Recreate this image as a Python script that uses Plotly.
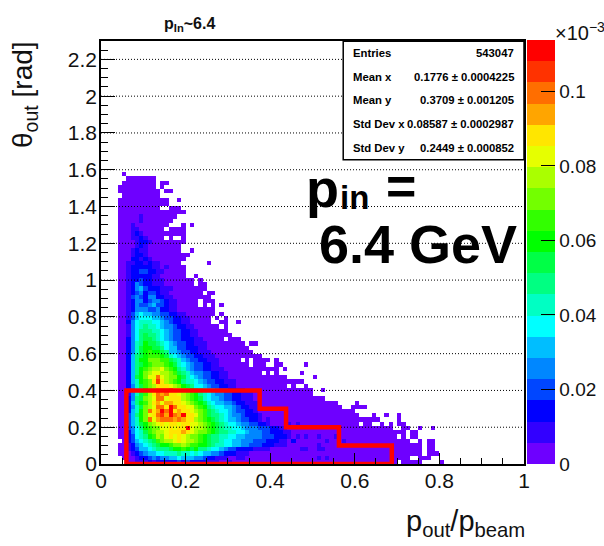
import plotly.graph_objects as go

# Histogram binning and palette
X_BIN = 0.01
Y_BIN = 0.023
N_BINS = 100
Z_MAX = 0.1138
BAND_COLORS = [
    "#6e00ff", "#3200ff", "#0000ff", "#0046ff", "#0087ff", "#00beff", "#00ffff",
    "#00ffc3", "#00ff82", "#00ff46", "#00ff00", "#32ff00", "#73ff00", "#aaff00",
    "#e6ff00", "#ffe600", "#ffa500", "#ff6e00", "#ff3200", "#ff0000",
]
BAND_CODES = "0123456789abcdefghij"

# Occupied cells per row (row index from the bottom): inclusive column spans
ROW_SPANS = {
    0: [(6, 69), (71, 75), (80, 80)], 1: [(5, 72), (75, 77)], 2: [(4, 75), (77, 79)],
    3: [(4, 75), (77, 78)], 4: [(4, 75), (77, 78)], 5: [(5, 72), (75, 75), (77, 78)],
    6: [(4, 69), (71, 71), (73, 74)], 7: [(4, 71), (73, 74)],
    8: [(4, 68), (71, 72), (75, 75), (78, 78)],
    9: [(4, 60), (62, 63), (66, 66), (68, 68), (70, 71)], 10: [(4, 65), (70, 70)],
    11: [(4, 60), (64, 64), (67, 67), (70, 70)], 12: [(4, 59)], 13: [(4, 56), (59, 62)],
    14: [(4, 55), (60, 60)], 15: [(4, 52)], 16: [(4, 49)], 17: [(4, 49), (52, 52)],
    18: [(4, 43), (45, 45), (48, 48)], 19: [(4, 47)], 20: [(4, 43), (50, 50)],
    21: [(4, 37), (39, 39), (41, 41), (47, 47)], 22: [(4, 41), (43, 43)],
    23: [(4, 34), (36, 38), (41, 42), (48, 48)], 24: [(4, 32), (34, 34), (36, 39), (41, 41)],
    25: [(4, 37)], 26: [(4, 35)], 27: [(4, 34)], 28: [(4, 33), (35, 36)],
    29: [(4, 28), (30, 32)], 30: [(4, 30)], 31: [(4, 29)], 32: [(4, 27), (29, 29)],
    33: [(4, 25), (28, 29), (32, 32)], 34: [(4, 25), (27, 27), (29, 29)],
    35: [(4, 26), (28, 28)], 36: [(4, 26)], 37: [(4, 22), (24, 24), (26, 26), (28, 28)],
    38: [(4, 22), (24, 26)], 39: [(4, 25)], 40: [(4, 23), (25, 26)], 41: [(4, 24)],
    42: [(4, 21), (23, 24)], 43: [(4, 21), (23, 23)], 44: [(4, 19), (22, 22)],
    45: [(4, 19)], 46: [(4, 19)], 47: [(4, 18), (25, 25)], 48: [(4, 19)], 49: [(4, 20)],
    50: [(4, 18), (21, 21)], 51: [(4, 18)], 52: [(4, 19)],
    53: [(4, 14), (16, 16), (19, 19)], 54: [(4, 19)], 55: [(4, 14), (16, 19)],
    56: [(4, 15), (19, 19), (21, 21)], 57: [(4, 16)], 58: [(4, 17)], 59: [(4, 19)],
    60: [(4, 13), (16, 18)], 61: [(4, 15)], 62: [(4, 15), (18, 18)], 63: [(5, 13)],
    64: [(4, 13), (15, 16)], 65: [(4, 12), (14, 14)], 66: [(5, 12), (14, 15)],
    67: [(6, 12)], 68: [(5, 5)],
}

# Colour band per cell, row index from the bottom, first character is column 4
ROW_BANDS = {
    0: "00001112122222323222211100100",
    1: "000012234344556555443221110011",
    2: "00012345566777877676554432221110",
    3: "001235567888 9aaba9a887665433222211110".replace(" ", ""),
    4: "0012456789aabccdcbbaa98776655443332221110",
    5: "002356789bcddefeddcba9887665544433322211",
    6: "0023678abdcefefedccba98877665544443332221",
    7: "0024679bcddefffgfedccba9887766544433 22211".replace(" ", ""),
    8: "003468abcceefeffjeddcba98776654443332211",
    9: "003579acdefeffeffeedcba98766544332210",
    10: "00357acheghhhghgffdcba98765543322101",
    11: "00358acefhigjhgjffecb98876544322210",
    12: "00257achfgjhjfgffedcb987665433221",
    13: "002479cdehhfjhffeecba87665543221110",
    14: "00258abdfgeggffedcba97655443221110",
    15: "002489cdehhefffdcba97655433221110",
    16: "001479bdfhghffedcba8765443322111",
    17: "001468acdggghffdca98755433221100",
    18: "002479bcdfffedca986654332211",
    19: "00257abcfifdcba8776543322111",
    20: "00259aceehedcca97654332211",
    21: "00258acdeeddcb987544332211",
    22: "00258abcddecba87543322111",
    23: "002589abcccba976543322110",
    24: "00258aacccbb987543322111",
    25: "002589abbba976543322111",
    26: "002479abaa985543322111",
    27: "002479aa9986553322211",
    28: "002478a99876543322111",
    29: "00246899876543322211",
    30: "0014689887654332211",
    31: "0014688877654332211",
    32: "001467877654432211",
    33: "00246777665432211",
    34: "00135666554332211",
    35: "0013565544332211",
    36: "00124443342211",
    37: "00124334533211",
    38: "00124423443211",
    39: "0013432442211",
    40: "001234233211",
    41: "0012453222111",
    42: "00124322111",
    43: "00122322111",
    44: "0012222211",
    45: "00122332211",
    46: "001222221101",
    47: "0011221211",
    48: "00022121",
    49: "0001221",
    50: "0001211",
    51: "0000121",
    52: "00001221",
    53: "0001121",
    54: "000121",
    55: "00011",
    56: "0001",
    57: "000001",
    58: "000001",
}

# Scattered darker cells in the tail: (column, row, band)
TAIL_CELLS = [
    (46, 6, 1), (48, 6, 1), (51, 6, 1), (55, 6, 1), (45, 5, 2), (53, 5, 1), (57, 5, 1),
    (51, 4, 1), (47, 3, 1), (48, 3, 1), (51, 3, 1), (52, 3, 1), (51, 1, 1), (53, 1, 1),
    (44, 9, 1), (46, 9, 1),
]

X_TICKS = [0, 0.2, 0.4, 0.6, 0.8, 1]
Y_TICKS = [0, 0.2, 0.4, 0.6, 0.8, 1, 1.2, 1.4, 1.6, 1.8, 2, 2.2]
CBAR_TICKS = [0, 0.02, 0.04, 0.06, 0.08, 0.1]

# Red selection contour
CUT_X = [0.06, 0.06, 0.375, 0.375, 0.4375, 0.4375, 0.5625, 0.5625, 0.6875, 0.6875, 0.06]
CUT_Y = [0.0, 0.4, 0.4, 0.3, 0.3, 0.2, 0.2, 0.1, 0.1, 0.0, 0.0]

STATS = [
    ("Entries", "543047"),
    ("Mean x", "0.1776 ± 0.0004225"),
    ("Mean y", "0.3709 ± 0.001205"),
    ("Std Dev x", "0.08587 ± 0.0002987"),
    ("Std Dev y", "0.2449 ± 0.000852"),
]

FONT = "Liberation Sans"
L, R, T, B = 100.5, 524.0, 40.5, 464.0
W, H = R - L, B - T


def px(v):
    return (v - L) / W


def py(v):
    return (B - v) / H


n_bands = len(BAND_COLORS)
step = Z_MAX / n_bands
band_of = {code: i for i, code in enumerate(BAND_CODES)}
z = [[None] * N_BINS for _ in range(N_BINS)]
for r, spans in ROW_SPANS.items():
    bands = ROW_BANDS.get(r, "")
    for a, b in spans:
        for c in range(a, b + 1):
            i = c - 4
            code = bands[i] if i < len(bands) else "0"
            z[r][c] = (band_of[code] + 0.5) * step
for c, r, band in TAIL_CELLS:
    if z[r][c] is not None:
        z[r][c] = (band + 0.5) * step

colorscale = []
for i, col in enumerate(BAND_COLORS):
    colorscale.append([i / n_bands, col])
    colorscale.append([(i + 1) / n_bands, col])

fig = go.Figure()
fig.add_trace(go.Heatmap(
    z=z, x0=X_BIN / 2, dx=X_BIN, y0=Y_BIN / 2, dy=Y_BIN,
    zmin=0, zmax=Z_MAX, zsmooth=False, colorscale=colorscale, hoverinfo="skip",
    colorbar=dict(
        x=px(527), xanchor="left", y=0, yanchor="bottom", lenmode="pixels", len=H,
        thicknessmode="pixels", thickness=28, xpad=0, ypad=0, outlinewidth=0,
        tickmode="array", tickvals=CBAR_TICKS, ticktext=[str(t) for t in CBAR_TICKS],
        ticks="inside", ticklen=14, tickwidth=1, tickcolor="black",
        tickfont=dict(family=FONT, size=19, color="#111"),
    ),
))

grid_x, grid_y = [], []
for t in Y_TICKS[1:]:
    grid_x += [0, 1, None]
    grid_y += [t, t, None]
fig.add_trace(go.Scatter(
    x=grid_x, y=grid_y, mode="lines", hoverinfo="skip", showlegend=False,
    line=dict(color="black", width=1, dash="1px,2px"),
))
fig.add_trace(go.Scatter(
    x=CUT_X, y=CUT_Y, mode="lines", hoverinfo="skip", showlegend=False, cliponaxis=False,
    line=dict(color="#ff0000", width=4.5),
))

axis_common = dict(
    showgrid=False, zeroline=False, showline=True, linecolor="black", linewidth=1.5,
    mirror=True, ticks="inside", tickcolor="black", tickwidth=1,
    tickfont=dict(family=FONT, size=21, color="#111"), layer="above traces",
)
fig.update_xaxes(
    range=[0, 1], tickmode="array", tickvals=X_TICKS, ticktext=[str(t) for t in X_TICKS],
    ticklen=11, ticklabelstandoff=-3,
    minor=dict(dtick=0.05, ticks="inside", ticklen=6, tickwidth=1,
               tickcolor="black", showgrid=False),
    **axis_common,
)
fig.update_yaxes(
    range=[0, 2.3], tickmode="array", tickvals=Y_TICKS, ticktext=[str(t) for t in Y_TICKS],
    ticklen=14, ticklabelstandoff=-2,
    minor=dict(dtick=0.05, ticks="inside", ticklen=7, tickwidth=1,
               tickcolor="black", showgrid=False),
    **axis_common,
)

annotations = []


def note(text, x, y, size, xanchor="left", yanchor="middle", bold=False, angle=0, color="#111"):
    annotations.append(dict(
        text=f"<b>{text}</b>" if bold else text, xref="paper", yref="paper",
        x=px(x), y=py(y), xanchor=xanchor, yanchor=yanchor, showarrow=False,
        textangle=angle, borderpad=0,
        font=dict(family=FONT, size=size, color=color),
    ))


note("p<sub>In</sub>~6.4", 163, 24, 16, bold=True)
note("θ<sub>out</sub> [rad]", 24, 94, 28, xanchor="center", angle=-90)
note("p<sub>out</sub>/p<sub>beam</sub>", 526, 523, 29, xanchor="right")
note("×10<sup>−3</sup>", 554, 31, 20)
note("p", 305, 188, 54, bold=True, color="black")
note("in", 339, 197, 33, bold=True, color="black")
note("=", 385, 186, 52, bold=True, color="black")
note("6.4 GeV", 518, 244, 54, xanchor="right", bold=True, color="black")

for (label, value), y in zip(STATS, [52.3, 76.7, 99.3, 124, 147.3]):
    note(label, 351.5, y, 11.3, bold=True, color="black")
    note(value, 514.5, y, 11.3, xanchor="right", bold=True, color="black")

fig.update_layout(
    width=604, height=546, paper_bgcolor="white", plot_bgcolor="white",
    margin=dict(l=L, r=604 - R, t=T, b=546 - B, pad=0, autoexpand=False),
    showlegend=False, annotations=annotations,
    shapes=[dict(
        type="rect", xref="paper", yref="paper", x0=px(343), x1=px(524),
        y0=py(159.5), y1=py(40.7), fillcolor="white", layer="above",
        line=dict(color="black", width=1.5),
    )],
)

fig.write_html("out.html", config={"displayModeBar": False},
               post_script="document.body.style.margin='0';")
